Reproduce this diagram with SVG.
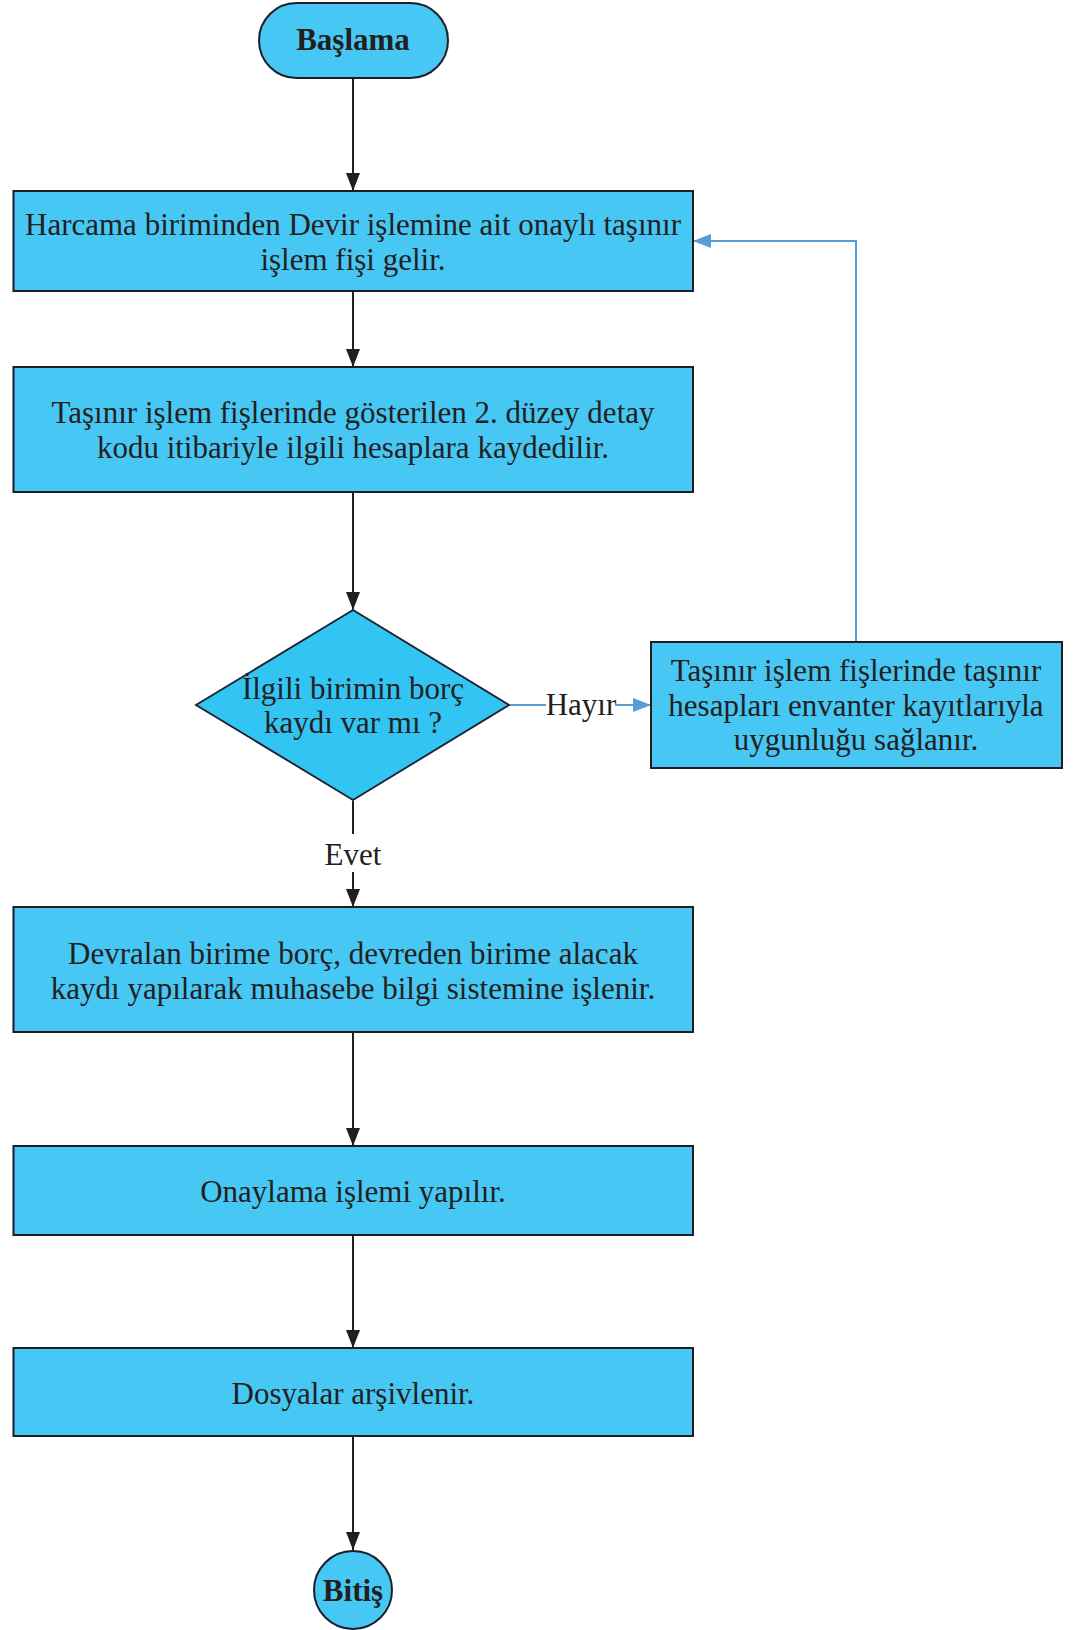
<svg xmlns="http://www.w3.org/2000/svg" width="1083" height="1630" viewBox="0 0 1083 1630">
<style>
.n{fill:#47C7F4;stroke:#231F20;stroke-width:2}
.d{fill:#33C4F2;stroke:#231F20;stroke-width:1.8}
.t{font-family:"Liberation Serif","DejaVu Serif",serif;font-size:31px;fill:#231F20;text-anchor:middle}
.b{font-family:"Liberation Serif","DejaVu Serif",serif;font-size:31px;font-weight:bold;fill:#231F20;text-anchor:middle}
.k{fill:none;stroke:#231F20;stroke-width:2}
.bl{fill:none;stroke:#5B9BD5;stroke-width:2}
</style>
<defs>
<marker id="ab" markerWidth="18" markerHeight="14" viewBox="0 0 18 14" refX="18" refY="7" orient="auto" markerUnits="userSpaceOnUse"><path d="M0,0 L18,7 L0,14 Z" fill="#5B9BD5"/></marker>
<marker id="ak2" markerWidth="18" markerHeight="14" viewBox="0 0 18 14" refX="18" refY="7" orient="auto" markerUnits="userSpaceOnUse"><path d="M0,0 L18,7 L0,14 Z" fill="#231F20"/></marker>
<filter id="sh" x="-5%" y="-5%" width="110%" height="125%"><feGaussianBlur in="SourceAlpha" stdDeviation="3"/><feOffset dx="2" dy="4"/><feComponentTransfer><feFuncA type="linear" slope="0.15"/></feComponentTransfer><feFlood flood-color="#5B9BD5"/><feComposite operator="in" in2="SourceAlpha"/><feMerge><feMergeNode/><feMergeNode in="SourceGraphic"/></feMerge></filter>
</defs>
<g id="connectors">
<line class="k" x1="353" y1="78" x2="353" y2="191" marker-end="url(#ak2)"/>
<line class="k" x1="353" y1="291" x2="353" y2="367" marker-end="url(#ak2)"/>
<line class="k" x1="353" y1="492" x2="353" y2="610" marker-end="url(#ak2)"/>
<line class="k" x1="353" y1="800" x2="353" y2="834"/>
<line class="k" x1="353" y1="872" x2="353" y2="907" marker-end="url(#ak2)"/>
<line class="k" x1="353" y1="1032" x2="353" y2="1146" marker-end="url(#ak2)"/>
<line class="k" x1="353" y1="1235" x2="353" y2="1348" marker-end="url(#ak2)"/>
<line class="k" x1="353" y1="1436" x2="353" y2="1550" marker-end="url(#ak2)"/>
<line class="bl" x1="509" y1="705" x2="546" y2="705"/>
<line class="bl" x1="615" y1="705" x2="651" y2="705" marker-end="url(#ab)"/>
<polyline class="bl" points="856,642 856,241 693,241" marker-end="url(#ab)"/>
<text class="t" x="581" y="715">Hayır</text>
<text class="t" x="353" y="865">Evet</text>
</g>
<g id="start"><rect class="n" filter="url(#sh)" x="259" y="3" width="189" height="75" rx="37.5"/><text class="b" x="353" y="50">Başlama</text></g>
<g id="box1"><rect class="n" filter="url(#sh)" x="13.5" y="191" width="679.5" height="100"/>
<text class="t" x="353" y="235">Harcama biriminden Devir işlemine ait onaylı taşınır</text>
<text class="t" x="353" y="270">işlem fişi gelir.</text></g>
<g id="box2"><rect class="n" filter="url(#sh)" x="13.5" y="367" width="679.5" height="125"/>
<text class="t" x="353" y="423">Taşınır işlem fişlerinde gösterilen 2. düzey detay</text>
<text class="t" x="353" y="458">kodu itibariyle ilgili hesaplara kaydedilir.</text></g>
<g id="decision"><polygon class="d" filter="url(#sh)" points="353,610 509,705 353,800 196,705"/>
<text class="t" x="353" y="699">İlgili birimin borç</text>
<text class="t" x="353" y="733">kaydı var mı ?</text></g>
<g id="boxR"><rect class="n" filter="url(#sh)" x="651" y="642" width="411" height="126"/>
<text class="t" x="856" y="681">Taşınır işlem fişlerinde taşınır</text>
<text class="t" x="856" y="716">hesapları envanter kayıtlarıyla</text>
<text class="t" x="856" y="750">uygunluğu sağlanır.</text></g>
<g id="box3"><rect class="n" filter="url(#sh)" x="13.5" y="907" width="679.5" height="125"/>
<text class="t" x="353" y="964">Devralan birime borç, devreden birime alacak</text>
<text class="t" x="353" y="999">kaydı yapılarak muhasebe bilgi sistemine işlenir.</text></g>
<g id="box4"><rect class="n" filter="url(#sh)" x="13.5" y="1146" width="679.5" height="89"/>
<text class="t" x="353" y="1202">Onaylama işlemi yapılır.</text></g>
<g id="box5"><rect class="n" filter="url(#sh)" x="13.5" y="1348" width="679.5" height="88"/>
<text class="t" x="353" y="1404">Dosyalar arşivlenir.</text></g>
<g id="end"><circle class="n" filter="url(#sh)" cx="353" cy="1590" r="39"/><text class="b" x="353" y="1601">Bitiş</text></g>
</svg>
